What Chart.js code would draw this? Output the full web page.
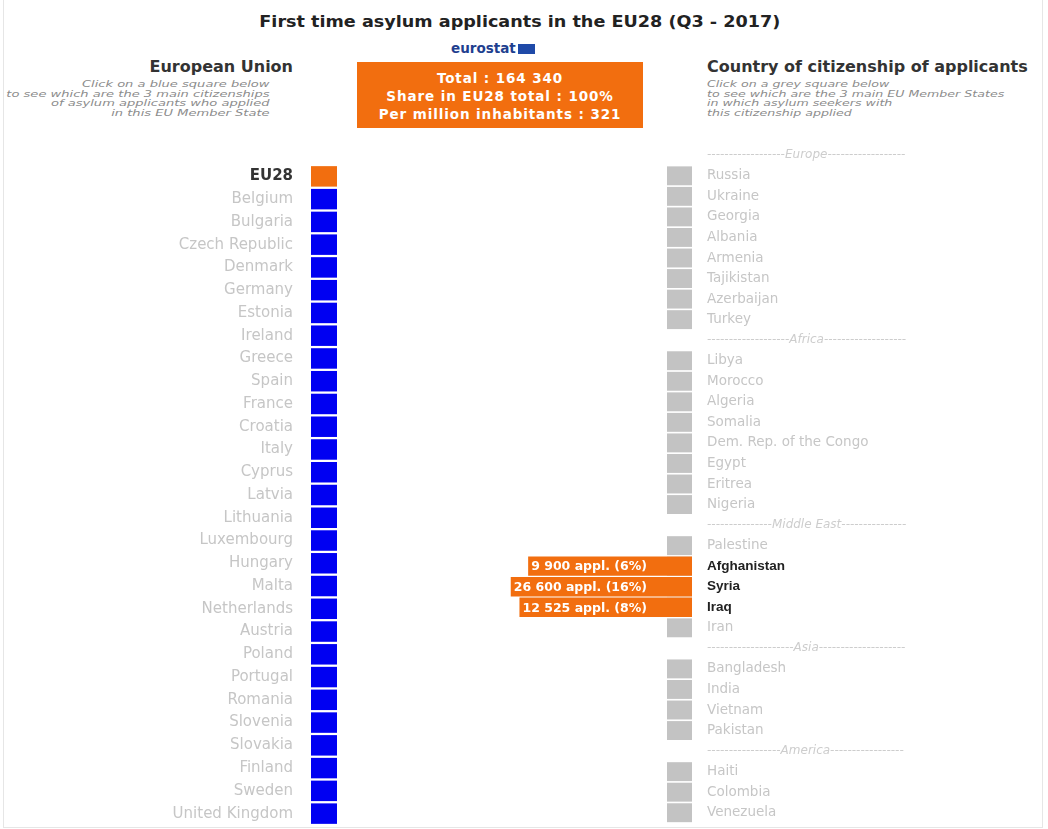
<!DOCTYPE html>
<html>
<head>
<meta charset="utf-8">
<script src="https://cdn.jsdelivr.net/npm/chart.js@4.4.1/dist/chart.umd.min.js"></script>
<style>
  html, body { margin: 0; padding: 0; background: #fff; }
  body { width: 1048px; height: 829px; position: relative; overflow: hidden; font-family: "DejaVu Sans", sans-serif; }
  .frame { position: absolute; left: 3px; top: -2px; width: 1038px; height: 828px; border: 1px solid #e6e6e6; }
  #title { position: absolute; top: 12px; left: 0; width: 1040px; text-align: center; font-weight: bold; font-size: 16px; color: #222; }
  #title span { display: inline-block; transform: scaleX(1.1); }
  #logo { position: absolute; left: 451px; top: 40px; font-weight: bold; font-size: 13.5px; color: #1f3f8f; white-space: nowrap; }
  #logo .flag { display: inline-block; width: 17px; height: 10px; background: #1f4aa8; margin-left: 2px; vertical-align: -1px; }
  #totals { position: absolute; left: 357px; top: 62px; width: 286px; height: 66px; background: #f26e0f; color: #fff;
            font-weight: bold; font-size: 13.5px; letter-spacing: 0.9px; line-height: 18px; text-align: center;
            box-sizing: border-box; padding-top: 7px; }
  .head { position: absolute; top: 57px; font-weight: bold; font-size: 16px; color: #333; white-space: nowrap; }
  #euHead { right: 755px; }
  #citHead { left: 707px; }
  .hint { position: absolute; top: 80px; font-style: italic; font-size: 9px; line-height: 9.5px; color: #8c8c8c; white-space: nowrap; }
  #euHint { right: 778px; text-align: right; transform: scaleX(1.45); transform-origin: right top; }
  #citHint { left: 707px; text-align: left; transform: scaleX(1.4); transform-origin: left top; }
  canvas { position: absolute; }
  #euChart { left: 0; top: 165px; }
  #citChart { left: 480px; top: 145px; }
</style>
</head>
<body>
<div class="frame"></div>
<div id="title"><span>First time asylum applicants in the EU28 (Q3 - 2017)</span></div>
<div id="logo">eurostat<span class="flag"></span></div>
<div id="totals"></div>
<div class="head" id="euHead">European Union</div>
<div class="head" id="citHead">Country of citizenship of applicants</div>
<div class="hint" id="euHint">Click on a blue square below<br>to see which are the 3 main citizenships<br>of asylum applicants who applied<br>in this EU Member State</div>
<div class="hint" id="citHint">Click on a grey square below<br>to see which are the 3 main EU Member States<br>in which asylum seekers with<br>this citizenship applied</div>
<canvas id="euChart" width="337" height="660"></canvas>
<canvas id="citChart" width="568" height="678"></canvas>
<script>
// EU28 summary (Q3 2017)
const euTotal = 164340;
const euShare = 100;
const euPerMillion = 321;

// left column: EU28 + member states, one square each
const euStates = ['EU28', 'Belgium', 'Bulgaria', 'Czech Republic', 'Denmark', 'Germany', 'Estonia', 'Ireland',
  'Greece', 'Spain', 'France', 'Croatia', 'Italy', 'Cyprus', 'Latvia', 'Lithuania', 'Luxembourg', 'Hungary',
  'Malta', 'Netherlands', 'Austria', 'Poland', 'Portugal', 'Romania', 'Slovenia', 'Slovakia', 'Finland',
  'Sweden', 'United Kingdom'];
const euSquares = [1, 1, 1, 1, 1, 1, 1, 1, 1, 1, 1, 1, 1, 1, 1, 1, 1, 1, 1, 1, 1, 1, 1, 1, 1, 1, 1, 1, 1];

// right column: citizenships grouped by region
const regions = ['Europe', 'Africa', 'Middle East', 'Asia', 'America'];
const europeCitizenships = ['Russia', 'Ukraine', 'Georgia', 'Albania', 'Armenia', 'Tajikistan', 'Azerbaijan', 'Turkey'];
const africaCitizenships = ['Libya', 'Morocco', 'Algeria', 'Somalia', 'Dem. Rep. of the Congo', 'Egypt', 'Eritrea', 'Nigeria'];
const middleEastCitizenships = ['Palestine', 'Afghanistan', 'Syria', 'Iraq', 'Iran'];
const asiaCitizenships = ['Bangladesh', 'India', 'Vietnam', 'Pakistan'];
const americaCitizenships = ['Haiti', 'Colombia', 'Venezuela'];

// 3 main citizenships of applicants in the EU28
const topCitizenships = ['Afghanistan', 'Syria', 'Iraq'];
const topApplicants = [9900, 26600, 12525];
const topShares = [6, 16, 8];

const ORANGE = '#f26e0f';
const BLUE = '#0000f2';
const GREY = '#c3c3c3';
const LABEL_GREY = '#c6c6c6';
const FAMILY = '"DejaVu Sans", sans-serif';
const BOX_FONT = 'bold 12.5px ' + FAMILY;
const HEADER_FONT = 'italic 12px ' + FAMILY;
const SQ_PX = 25;          // width of a grey square in px
const CIT_AREA_W = 212;    // plot width of the right chart
const BOX_PAD_L = 3, BOX_PAD_R = 45;

Chart.defaults.font.family = FAMILY;
Chart.defaults.animation = false;

function fmt(n) {
  return String(n).replace(/\B(?=(\d{3})+(?!\d))/g, ' ');
}

document.getElementById('totals').innerHTML =
  'Total : ' + fmt(euTotal) + '<br>Share in EU28 total : ' + euShare + '%<br>Per million inhabitants : ' + euPerMillion;

// keep the category rows flush with the canvas (no label padding above/below)
function fixAxis(width) {
  return s => {
    s.width = width;
    s.paddingTop = 0;
    s.paddingBottom = 0;
  };
}

// left chart
new Chart(document.getElementById('euChart'), {
  type: 'bar',
  data: {
    labels: euStates,
    datasets: [{
      data: euSquares,
      backgroundColor: ctx => ctx.dataIndex === 0 ? ORANGE : BLUE,
      barPercentage: 0.9,
      categoryPercentage: 1
    }]
  },
  options: {
    indexAxis: 'y',
    responsive: false,
    layout: { padding: 0 },
    plugins: { legend: { display: false }, tooltip: { enabled: false } },
    events: [],
    scales: {
      x: { display: false, min: 0, max: 1 },
      y: {
        position: 'left',
        afterFit: fixAxis(311),
        grid: { display: false, drawTicks: false },
        border: { display: false },
        ticks: {
          autoSkip: false,
          padding: 18,
          color: ctx => ctx.index === 0 ? '#333' : LABEL_GREY,
          font: ctx => ctx.index === 0 ? { size: 15, weight: 'bold' } : { size: 15 }
        }
      }
    }
  }
});

// right chart rows
const groups = [europeCitizenships, africaCitizenships, middleEastCitizenships, asiaCitizenships, americaCitizenships];
const rows = [];
regions.forEach((r, i) => {
  rows.push({ label: r, header: true });
  groups[i].forEach(c => rows.push({ label: c, header: false }));
});

const mctx = document.createElement('canvas').getContext('2d');
mctx.font = HEADER_FONT;
const dashW = mctx.measureText('-').width;
function headerText(name) {
  const n = Math.max(0, Math.round((198 - mctx.measureText(name).width) / 2 / dashW));
  return '-'.repeat(n) + name + '-'.repeat(n);
}
const headerTexts = rows.map(r => r.header ? headerText(r.label) : r.label);

const boxLabels = topCitizenships.map((c, k) => fmt(topApplicants[k]) + ' appl. (' + topShares[k] + '%)');
mctx.font = BOX_FONT;
const boxData = rows.map(r => {
  const k = topCitizenships.indexOf(r.label);
  if (k < 0) return null;
  const w = mctx.measureText(boxLabels[k]).width;
  return [1 - (w + BOX_PAD_L + BOX_PAD_R) / SQ_PX, 1];
});
const squareData = rows.map(r => r.header ? null : [0, 1]);

const boxText = {
  id: 'boxText',
  afterDatasetsDraw(chart) {
    const ctx = chart.ctx;
    const meta = chart.getDatasetMeta(0);
    ctx.save();
    ctx.font = BOX_FONT;
    ctx.fillStyle = '#fff';
    ctx.textBaseline = 'middle';
    ctx.textAlign = 'left';
    meta.data.forEach((el, i) => {
      if (!boxData[i]) return;
      const k = topCitizenships.indexOf(rows[i].label);
      ctx.fillText(boxLabels[k], Math.min(el.x, el.base) + BOX_PAD_L, el.y + 1);
    });
    ctx.restore();
  }
};

new Chart(document.getElementById('citChart'), {
  type: 'bar',
  data: {
    labels: rows.map(r => r.label),
    datasets: [
      { data: boxData, backgroundColor: ORANGE, grouped: false, order: 0, barPercentage: 0.94, categoryPercentage: 1 },
      { data: squareData, backgroundColor: GREY, grouped: false, order: 1, barPercentage: 0.92, categoryPercentage: 1 }
    ]
  },
  options: {
    indexAxis: 'y',
    responsive: false,
    layout: { padding: 0 },
    plugins: { legend: { display: false }, tooltip: { enabled: false } },
    events: [],
    scales: {
      x: { display: false, min: 1 - CIT_AREA_W / SQ_PX, max: 1 },
      y: {
        position: 'right',
        afterFit: fixAxis(568 - CIT_AREA_W),
        grid: { display: false, drawTicks: false },
        border: { display: false },
        ticks: {
          autoSkip: false,
          padding: 15,
          callback: (v, i) => headerTexts[i],
          color: ctx => {
            const r = rows[ctx.index];
            if (topCitizenships.includes(r.label)) return '#222';
            return r.header ? '#cdcdcd' : LABEL_GREY;
          },
          font: ctx => {
            const r = rows[ctx.index];
            if (r.header) return { size: 12, style: 'italic' };
            if (topCitizenships.includes(r.label)) return { size: 13.5, weight: 'bold', family: '"Liberation Sans", Arial, sans-serif' };
            return { size: 13.5 };
          }
        }
      }
    }
  },
  plugins: [boxText]
});
</script>
</body>
</html>
